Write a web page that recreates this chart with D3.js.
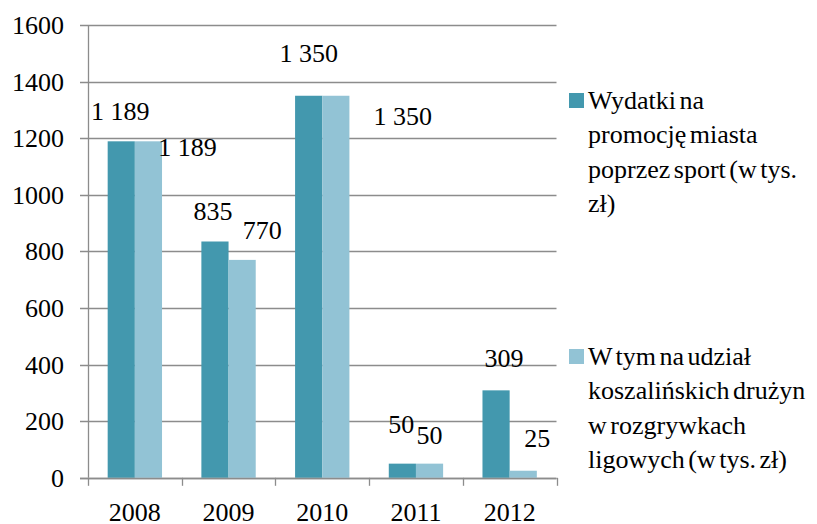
<!DOCTYPE html>
<html>
<head>
<meta charset="utf-8">
<script src="https://cdn.jsdelivr.net/npm/d3@7"></script>
</head>
<body style="margin:0">
<script>

var width = 817,
    height = 524;

var FONT = "'Liberation Serif', Tinos, 'Times New Roman'";

// data
var years = ["2008", "2009", "2010", "2011", "2012"];
var wydatki = [1189, 835, 1350, 50, 309];
var druzyny = [1189, 770, 1350, 50, 25];
var yTicks = [0, 200, 400, 600, 800, 1000, 1200, 1400, 1600];
var seriesNames = [
  ["Wydatki na", "promocję miasta", "poprzez sport (w tys.", "zł)"],
  ["W tym na udział", "koszalińskich drużyn", "w rozgrywkach", "ligowych (w tys. zł)"]
];
var colors = ["#4398ae", "#92c3d5"];

// hand-placed label nudges (like the original), relative to bar top centre
var labelNudge = [
  [[-1, -21], [-2, -21], [0, -34], [-1, -31], [8, -23]],
  [[39, 15], [20, -21], [67, 29], [0, -20], [14, -24]]
];

var svg = d3.select("body").append("svg")
    .attr("width", width)
    .attr("height", height)
    .attr("font-family", FONT)
    .style("font-family", FONT);

var x = d3.scaleBand()
    .domain(years)
    .range([88, 556.5])
    .paddingInner(0.42)
    .paddingOuter(0.21);

var y = d3.scaleLinear()
    .domain([0, 1600])
    .range([477.8, 25]);

function label(v) {
  var s = String(v);
  return s.length > 3 ? s.slice(0, s.length - 3) + " " + s.slice(-3) : s;
}

// gridlines
yTicks.forEach(function(d) {
  var yy = Math.round(y(d)) + 0.5;
  svg.append("line")
      .attr("x1", 80).attr("x2", 556.5)
      .attr("y1", yy).attr("y2", yy)
      .attr("stroke", "#8c8c8c")
      .attr("stroke-width", 1.3);
});

// bars
var series = [wydatki, druzyny];
var sub = d3.scaleBand()
    .domain([0, 1])
    .range([0, x.bandwidth()]);

series.forEach(function(vals, s) {
  vals.forEach(function(d, i) {
    svg.append("rect")
        .attr("x", x(years[i]) + sub(s))
        .attr("y", y(d))
        .attr("width", sub.bandwidth())
        .attr("height", y(0) - y(d))
        .attr("fill", colors[s]);
  });
});

// y axis line
svg.append("line")
    .attr("x1", 88.5).attr("x2", 88.5)
    .attr("y1", y(1600)).attr("y2", y(0))
    .attr("stroke", "#8c8c8c")
    .attr("stroke-width", 1.3);

// x axis line + ticks between categories
svg.append("line")
    .attr("x1", 80).attr("x2", 556.5)
    .attr("y1", Math.round(y(0)) + 0.5).attr("y2", Math.round(y(0)) + 0.5)
    .attr("stroke", "#8c8c8c")
    .attr("stroke-width", 1.3);

var bounds = years.map(function(d) { return x(d) - x.step() * x.paddingOuter(); });
bounds.push(556.5);
bounds.forEach(function(d) {
  svg.append("line")
      .attr("x1", Math.round(d) + 0.5).attr("x2", Math.round(d) + 0.5)
      .attr("y1", y(0)).attr("y2", y(0) + 8)
      .attr("stroke", "#8c8c8c")
      .attr("stroke-width", 1.3);
});

function addText(str, tx, ty, anchor) {
  return svg.append("text")
      .attr("x", tx)
      .attr("y", ty)
      .attr("text-anchor", anchor)
      .attr("font-size", 26)
      .style("font-family", FONT)
      .text(str);
}

// y labels
yTicks.forEach(function(d) {
  addText(d, 64, y(d) + 9, "end");
});

// x labels (cut by the bottom edge, as in the original)
years.forEach(function(d) {
  addText(d, x(d) + x.bandwidth() / 2, 521, "middle");
});

// data labels
series.forEach(function(vals, s) {
  vals.forEach(function(d, i) {
    addText(label(d),
      x(years[i]) + sub(s) + sub.bandwidth() / 2 + labelNudge[s][i][0],
      y(d) + labelNudge[s][i][1], "middle");
  });
});

// legend
var legendTop = [93, 349];
seriesNames.forEach(function(lines, s) {
  svg.append("rect")
      .attr("x", 569)
      .attr("y", legendTop[s])
      .attr("width", 15)
      .attr("height", 15)
      .attr("fill", colors[s]);
  lines.forEach(function(t, i) {
    addText(t, 588, legendTop[s] + 16 + i * 34.3, "start")
      .style("word-spacing", "-3px");
  });
});

</script>
</body>
</html>
